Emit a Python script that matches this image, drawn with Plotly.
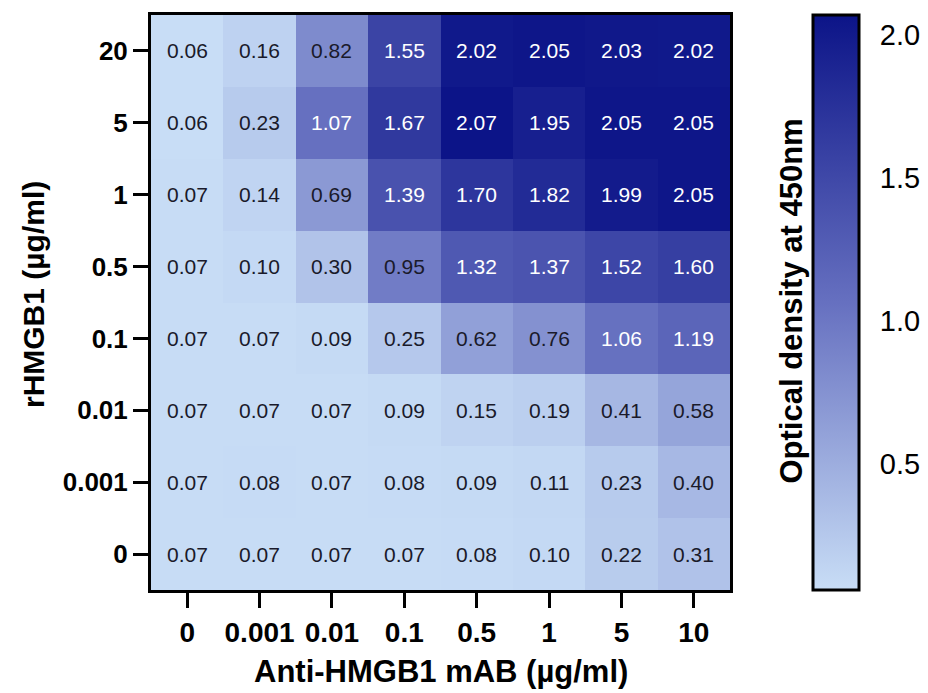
import plotly.graph_objects as go

x_labels = ["0", "0.001", "0.01", "0.1", "0.5", "1", "5", "10"]
y_labels = ["20", "5", "1", "0.5", "0.1", "0.01", "0.001", "0"]  # top to bottom

row_20 = [0.06, 0.16, 0.82, 1.55, 2.02, 2.05, 2.03, 2.02]
row_5 = [0.06, 0.23, 1.07, 1.67, 2.07, 1.95, 2.05, 2.05]
row_1 = [0.07, 0.14, 0.69, 1.39, 1.70, 1.82, 1.99, 2.05]
row_05 = [0.07, 0.10, 0.30, 0.95, 1.32, 1.37, 1.52, 1.60]
row_01 = [0.07, 0.07, 0.09, 0.25, 0.62, 0.76, 1.06, 1.19]
row_001 = [0.07, 0.07, 0.07, 0.09, 0.15, 0.19, 0.41, 0.58]
row_0001 = [0.07, 0.08, 0.07, 0.08, 0.09, 0.11, 0.23, 0.40]
row_0 = [0.07, 0.07, 0.07, 0.07, 0.08, 0.10, 0.22, 0.31]

rows = [row_20, row_5, row_1, row_05, row_01, row_001, row_0001, row_0]
z = rows[::-1]  # bottom row first
y_bottom_up = y_labels[::-1]

FONT = "Liberation Sans, Arial, sans-serif"

fig = go.Figure()
fig.add_trace(go.Heatmap(
    z=z,
    x=list(range(len(x_labels))),
    y=list(range(len(y_bottom_up))),
    zmin=0.06, zmax=2.07,
    colorscale=[[0.0, "#c8ddf6"], [0.5, "#6670c0"], [1.0, "#0c1488"]],
    colorbar=dict(
        x=1.1434, xanchor="left", xref="paper",
        y=0, yanchor="bottom", len=1, lenmode="fraction",
        thickness=46, thicknessmode="pixels",
        outlinewidth=3, outlinecolor="black",
        xpad=0, ypad=0,
        tickvals=[0.5, 1.0, 1.5, 2.0],
        ticktext=["0.5", "1.0", "1.5", "2.0"],
        ticks="outside", ticklen=14, tickwidth=1, tickcolor="rgba(0,0,0,0)",
        tickfont=dict(family=FONT, size=29, color="black"),
    ),
    hoverinfo="skip",
))

annotations = []
for yi, row in enumerate(z):
    for xi, v in enumerate(row):
        annotations.append(dict(
            x=xi, y=yi, xref="x", yref="y",
            text=f"{v:.2f}", showarrow=False,
            font=dict(family=FONT, size=21,
                      color="white" if v >= 1.0 else "#1a1a2a"),
        ))

# axis titles and colorbar title
annotations.append(dict(
    x=0.5, y=-0.1419, xref="paper", yref="paper",
    text="<b>Anti-HMGB1 mAB (µg/ml)</b>", showarrow=False,
    xanchor="center", yanchor="middle",
    font=dict(family=FONT, size=31, color="black"),
))
annotations.append(dict(
    x=-0.2038, y=0.5147, xref="paper", yref="paper",
    text="<b>rHMGB1 (µg/ml)</b>", textangle=-90, showarrow=False,
    xanchor="center", yanchor="middle",
    font=dict(family=FONT, size=30, color="black"),
))
annotations.append(dict(
    x=1.1054, y=0.5017, xref="paper", yref="paper",
    text="<b>Optical density at 450nm</b>", textangle=-90,
    showarrow=False, xanchor="center", yanchor="middle",
    font=dict(family=FONT, size=31, color="black"),
))

fig.update_layout(
    width=928, height=693,
    margin=dict(l=143, r=206, t=4, b=111),
    paper_bgcolor="white", plot_bgcolor="white",
    annotations=annotations,
    font=dict(family=FONT, color="black"),
)

fig.update_xaxes(
    tickvals=list(range(len(x_labels))), ticktext=[f"<b>{t}</b>" for t in x_labels],
    tickfont=dict(family=FONT, size=28, color="black"),
    ticks="outside", ticklen=15, tickwidth=3, tickcolor="black",
    showline=True, linewidth=3, linecolor="black", mirror=True,
    showgrid=False, zeroline=False,
    range=[-0.5, 7.5],
)
fig.update_yaxes(
    tickvals=list(range(len(y_bottom_up))), ticktext=[f"<b>{t}</b>" for t in y_bottom_up],
    tickfont=dict(family=FONT, size=26, color="black"),
    ticks="outside", ticklen=15, tickwidth=3, tickcolor="black",
    showline=True, linewidth=3, linecolor="black", mirror=True,
    showgrid=False, zeroline=False,
    range=[-0.5, 7.5],
)

fig.write_html("out.html")
